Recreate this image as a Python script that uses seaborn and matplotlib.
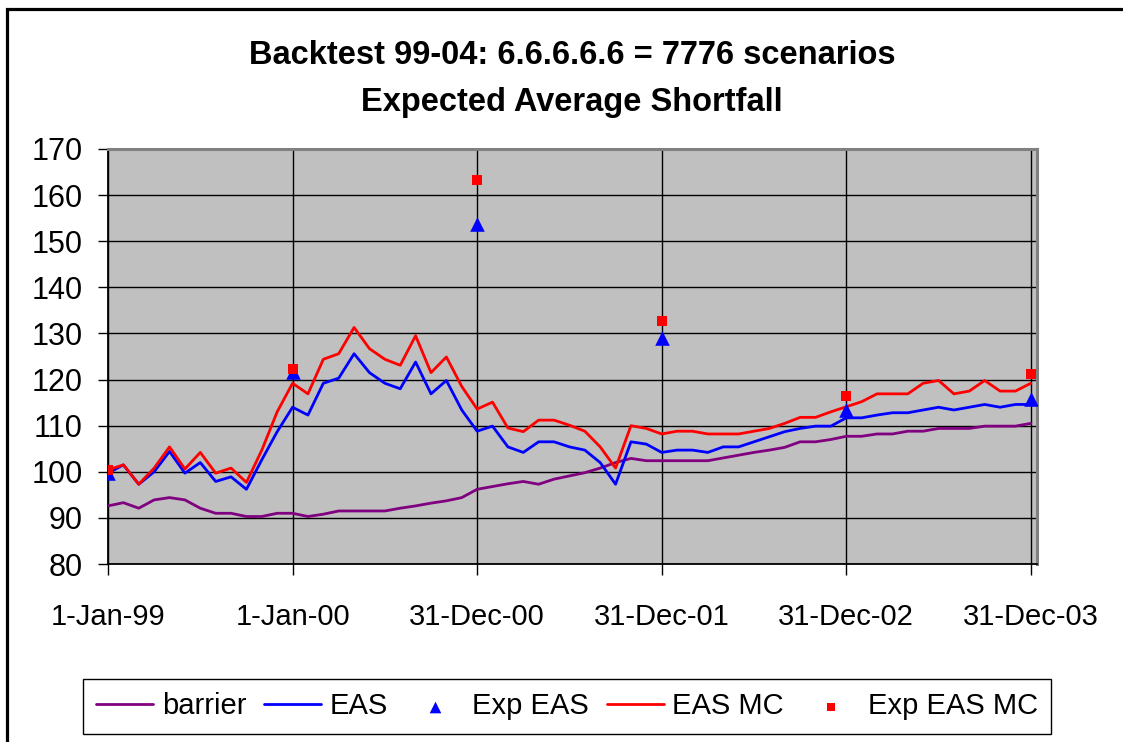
import matplotlib
matplotlib.use("Agg")
import matplotlib.pyplot as plt
import seaborn as sns
import numpy as np
import pandas as pd
from matplotlib.patches import Rectangle

# ---- data (monthly, Jan-99 .. Dec-03) ----
barrier = [92.6, 93.3, 92.1, 93.9, 94.4, 93.9, 92.1, 91.0, 91.0, 90.3, 90.3, 91.0, 91.0, 90.3,
           90.8, 91.5, 91.5, 91.5, 91.5, 92.1, 92.6, 93.2, 93.7, 94.4, 96.2, 96.8,
           97.4, 97.9, 97.3, 98.4, 99.1, 99.8, 100.8, 102.0, 102.9, 102.4, 102.4, 102.4,
           102.4, 102.4, 103.0, 103.6, 104.2, 104.7, 105.3, 106.5, 106.5, 107.0, 107.7, 107.7,
           108.2, 108.2, 108.8, 108.8, 109.4, 109.4, 109.4, 109.9, 109.9, 109.9, 110.5]
eas = [99.7, 101.5, 97.3, 100.0, 104.4, 99.7, 102.0, 97.9, 98.9, 96.2, 102.6, 108.7, 114.0, 112.3,
       119.2, 120.3, 125.6, 121.5, 119.2, 118.0, 123.8, 116.9, 119.8, 113.4, 108.8, 109.9,
       105.4, 104.2, 106.5, 106.5, 105.4, 104.7, 102.0, 97.3, 106.5, 106.0, 104.2, 104.7,
       104.7, 104.2, 105.4, 105.4, 106.5, 107.6, 108.7, 109.4, 109.9, 109.9, 111.7, 111.7,
       112.3, 112.8, 112.8, 113.4, 114.0, 113.4, 114.0, 114.6, 114.0, 114.6, 114.6]
eas_mc = [100.4, 101.5, 97.3, 100.8, 105.4, 100.6, 104.2, 99.7, 100.8, 97.7, 104.7, 113.0, 119.2, 116.9,
          124.4, 125.6, 131.3, 126.7, 124.4, 123.1, 129.5, 121.5, 124.9, 118.5, 113.6, 115.1,
          109.5, 108.7, 111.2, 111.2, 110.1, 108.8, 105.4, 100.8, 110.0, 109.4, 108.2, 108.8,
          108.8, 108.2, 108.2, 108.2, 108.8, 109.4, 110.5, 111.8, 111.8, 113.0, 114.1, 115.2,
          116.9, 116.9, 116.9, 119.2, 119.8, 116.9, 117.5, 119.8, 117.5, 117.5, 119.2]
exp_idx = [0, 12, 24, 36, 48, 60]
exp_eas = [99.7, 121.7, 153.7, 129.0, 113.4, 115.7]
exp_eas_mc = [100.4, 122.3, 163.3, 132.8, 116.5, 121.2]
tick_idx = [0, 12, 24, 36, 48, 60]
tick_labels = ["1-Jan-99", "1-Jan-00", "31-Dec-00", "31-Dec-01", "31-Dec-02", "31-Dec-03"]
y_ticks = [80, 90, 100, 110, 120, 130, 140, 150, 160, 170]

sns.set_theme(style="white")
plt.rcParams['font.family'] = ['Liberation Sans', 'DejaVu Sans']
plt.rcParams['text.color'] = 'black'
plt.rcParams['xtick.color'] = 'black'
plt.rcParams['ytick.color'] = 'black'

months = np.arange(len(barrier))
df = pd.DataFrame({"m": months, "barrier": barrier, "EAS": eas, "EAS MC": eas_mc})
dfe = pd.DataFrame({"m": exp_idx, "Exp EAS": exp_eas, "Exp EAS MC": exp_eas_mc})

fig = plt.figure(figsize=(11.23, 7.42), dpi=100)
W, H = 1123, 742
ax = fig.add_axes([108 / W, 1 - 564 / H, (1037 - 108) / W, (564 - 149) / H])
ax.set_facecolor("#C0C0C0")

sns.lineplot(data=df, x="m", y="barrier", color="#800080", lw=2, ax=ax, label="barrier", zorder=3)
sns.lineplot(data=df, x="m", y="EAS", color="#0000FF", lw=2, ax=ax, label="EAS", zorder=3)
sns.scatterplot(data=dfe, x="m", y="Exp EAS", color="#0000FF", marker="^", s=110, linewidth=0,
                ax=ax, label="Exp EAS", zorder=4)
sns.lineplot(data=df, x="m", y="EAS MC", color="#FF0000", lw=2, ax=ax, label="EAS MC", zorder=3)
sns.scatterplot(data=dfe, x="m", y="Exp EAS MC", color="#FF0000", marker="s", s=60, linewidth=0,
                ax=ax, label="Exp EAS MC", zorder=4)

ax.set_xlim(0, 60.4)
ax.set_ylim(80, 170)
ax.set_yticks(y_ticks)
ax.set_xticks(tick_idx)
ax.set_xticklabels(tick_labels)
ax.set_xlabel("")
ax.set_ylabel("")
ax.grid(True, color="black", lw=1.0, zorder=1)
ax.set_axisbelow(True)
ax.tick_params(axis="y", direction="out", length=7, width=1, color="black", pad=11,
               labelsize=22, labelcolor="black", left=True)
ax.tick_params(axis="x", direction="out", length=8, width=1, color="black", pad=20,
               labelsize=21, labelcolor="black", bottom=True)
for s in ["left", "bottom"]:
    ax.spines[s].set_color("black")
    ax.spines[s].set_linewidth(1.3)
for s in ["top", "right"]:
    ax.spines[s].set_color("#808080")
    ax.spines[s].set_linewidth(2.2)

handles, labels = ax.get_legend_handles_labels()
order = ["barrier", "EAS", "Exp EAS", "EAS MC", "Exp EAS MC"]
hmap = dict(zip(labels, handles))
if ax.legend_:
    ax.legend_.remove()
leg = fig.legend([hmap[k] for k in order], order, loc="center",
                 bbox_to_anchor=(567 / W, 1 - 706.5 / H), ncol=5, fontsize=21,
                 frameon=True, fancybox=False, edgecolor="black", framealpha=1,
                 handlelength=1.95, handletextpad=0.3, columnspacing=0.62,
                 borderpad=0.45, markerscale=0.8)
leg.get_frame().set_linewidth(1.0)
for t in leg.get_texts():
    t.set_color("black")

fig.text(572 / W, 1 - 55 / H, "Backtest 99-04: 6.6.6.6.6 = 7776 scenarios", ha="center", va="center",
         fontsize=23.5, fontweight="bold", color="black")
fig.text(572 / W, 1 - 103 / H, "Expected Average Shortfall", ha="center", va="center",
         fontsize=23.5, fontweight="bold", color="black")

fig.patches.append(Rectangle((7 / W, -0.05), 1.2, 1 - 9 / H + 0.05, transform=fig.transFigure,
                             fill=False, edgecolor="black", lw=2.3, figure=fig))

fig.savefig("out.png", dpi=100)
